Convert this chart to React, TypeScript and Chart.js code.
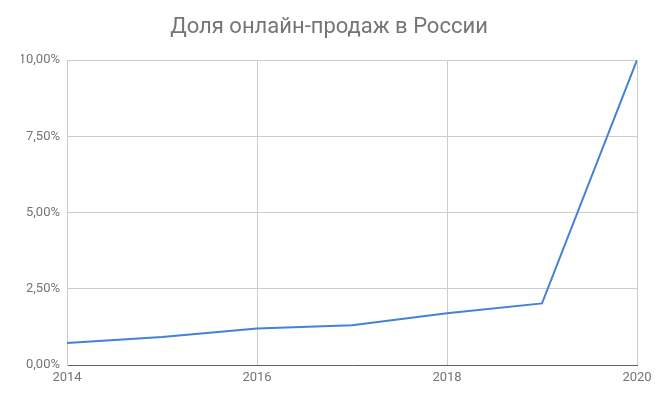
import React, { useEffect, useRef } from "react";
import { Chart, registerables } from "chart.js";

Chart.register(...registerables);

const years = [2014, 2015, 2016, 2017, 2018, 2019, 2020];
const shares = [0.72, 0.92, 1.2, 1.3, 1.7, 2.02, 10.0];
const titleText = "Доля онлайн-продаж в России";

export default function App() {
  const ref = useRef<HTMLCanvasElement | null>(null);
  useEffect(() => {
    document.body.style.margin = "0";
    const ctx = ref.current!;
    const chart = new Chart(ctx, {
      type: "line",
      data: {
        datasets: [
          {
            data: years.map((y, i) => ({ x: y, y: shares[i] })),
            borderColor: "#4580d9",
            borderWidth: 2,
            pointRadius: 0,
            tension: 0,
            fill: false,
          },
        ],
      },
      options: {
        animation: false,
        responsive: false,
        maintainAspectRatio: false,
        layout: { padding: { left: 21, right: 21, top: 0, bottom: 0 } },
        plugins: {
          legend: { display: false },
          tooltip: { enabled: false },
          title: {
            display: true,
            text: titleText,
            color: "#757575",
            font: { family: "Roboto", size: 22, weight: "normal" },
            padding: { top: 14, bottom: 19.6 },
          },
        },
        scales: {
          x: {
            type: "linear",
            min: 2014,
            max: 2020,
            ticks: {
              stepSize: 2,
              color: "#757575",
              font: { family: "Roboto", size: 13 },
              padding: 5,
              maxRotation: 0,
              callback: (v: any) => String(v),
            },
            grid: { color: "#cccccc", drawTicks: false },
            border: { display: true, color: "#5f5f5f", width: 1 },
            afterFit: (s: any) => {
              s.height = 37;
            },
          },
          y: {
            min: 0,
            max: 10,
            ticks: {
              stepSize: 2.5,
              color: "#757575",
              font: { family: "Roboto", size: 13 },
              padding: 7,
              callback: (v: any) => Number(v).toFixed(2).replace(".", ",") + "%",
            },
            grid: { color: "#cccccc", drawTicks: false },
            border: { display: true, color: "#cccccc" },
            afterFit: (s: any) => {
              s.width = 46;
            },
          },
        },
      },
    });
    return () => chart.destroy();
  }, []);
  return (
    <div style={{ position: "absolute", left: 0, top: 0, width: 658, height: 402 }}>
      <canvas ref={ref} width={658} height={402} style={{ width: 658, height: 402 }} />
    </div>
  );
}
